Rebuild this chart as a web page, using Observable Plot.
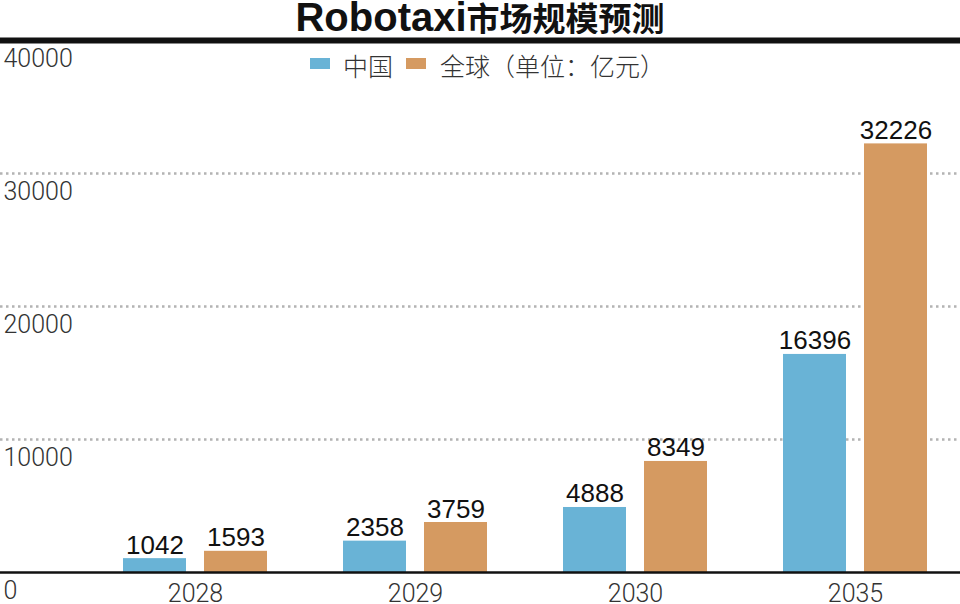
<!DOCTYPE html>
<html>
<head>
<meta charset="utf-8">
<script src="https://cdn.jsdelivr.net/npm/d3@7"></script>
<script src="https://cdn.jsdelivr.net/npm/@observablehq/plot@0.6"></script>
<style>
  html, body { margin: 0; padding: 0; background: #fff; }
  #wrap { position: relative; width: 960px; height: 604px; overflow: hidden; background: #fff; }
  #title { position: absolute; left: 0; top: 0; width: 960px; height: 34px; text-align: center; line-height: 34px; white-space: nowrap; color: #111; font-family: "Liberation Sans", Arial, sans-serif; font-size: 34px; }
  #title .lat { font-family: "Liberation Sans", Arial, sans-serif; font-weight: 700; font-size: 40px; line-height: 34px; }
  #title .cjk { font-family: "Noto Sans CJK SC", sans-serif; font-weight: 700; font-size: 33px; line-height: 34px; }
  #chart { position: absolute; left: 0; top: 34px; }
  .leg { position: absolute; top: 50px; font-family: "Noto Sans CJK SC", sans-serif; font-weight: 300; font-size: 25px; line-height: 30px; color: #333; white-space: nowrap; }
  .sw { position: absolute; top: 58px; width: 20px; height: 11px; }
</style>
</head>
<body>
<div id="wrap">
  <div id="title"><span class="lat">Robotaxi</span><span class="cjk">市场规模预测</span></div>
  <div id="chart"></div>
</div>
<script>
const years = ["2028", "2029", "2030", "2035"];
const chinaValues = [1042, 2358, 4888, 16396];
const globalValues = [1593, 3759, 8349, 32226];
const yTicks = [0, 10000, 20000, 30000, 40000];
const seriesNames = ["中国", "全球（单位：亿元）"];
const seriesColors = ["#69b3d6", "#d59a61"];

const chinaRows = years.map((y, i) => ({year: y, value: chinaValues[i]}));
const globalRows = years.map((y, i) => ({year: y, value: globalValues[i]}));

const numFont = "'Liberation Sans', Arial, sans-serif";

const chart = Plot.plot({
  width: 960,
  height: 570,
  marginTop: 6,
  marginBottom: 32,
  marginLeft: 0,
  marginRight: 0,
  style: {background: "#fff", fontFamily: numFont, overflow: "visible"},
  x: {type: "band", domain: years, paddingInner: 0.3455, paddingOuter: 0.3545, align: 0.788, axis: null},
  y: {domain: [0, 40000], axis: null},
  marks: [
    Plot.ruleY(yTicks.filter(d => d > 0 && d < 40000), {stroke: "#b3b3b3", strokeWidth: 2.5, strokeDasharray: "2.5,3.5"}),
    Plot.barY(chinaRows, {x: "year", y: "value", fill: seriesColors[0], insetRight: 81}),
    Plot.barY(globalRows, {x: "year", y: "value", fill: seriesColors[1], insetLeft: 81}),
    Plot.ruleY([0], {stroke: "#111", strokeWidth: 2.5}),
    Plot.ruleY([40000], {stroke: "#111", strokeWidth: 6}),
    Plot.text(yTicks, {y: d => d, text: d => String(d), frameAnchor: "left", textAnchor: "start", dx: 3, lineAnchor: "bottom", dy: 26, fontSize: 25, fill: "#333", fontFamily: "Roboto", fontWeight: 300}),
    Plot.text(years, {x: d => d, text: d => d, frameAnchor: "bottom", lineAnchor: "bottom", dy: 29, fontSize: 25, fill: "#333", fontFamily: "Roboto", fontWeight: 300}),
    Plot.text(chinaRows, {x: "year", y: "value", text: d => String(d.value), dx: -40.5, dy: -5, lineAnchor: "bottom", fontSize: 26, fill: "#111"}),
    Plot.text(globalRows, {x: "year", y: "value", text: d => String(d.value), dx: 40.5, dy: -5, lineAnchor: "bottom", fontSize: 26, fill: "#111"})
  ]
});
document.getElementById("chart").appendChild(chart);

// legend
const wrap = document.getElementById("wrap");
const legPos = [{sw: 310, tx: 343}, {sw: 406, tx: 440}];
seriesNames.forEach((name, i) => {
  const sw = document.createElement("div");
  sw.className = "sw";
  sw.style.left = legPos[i].sw + "px";
  sw.style.background = seriesColors[i];
  wrap.appendChild(sw);
  const tx = document.createElement("div");
  tx.className = "leg";
  tx.style.left = legPos[i].tx + "px";
  tx.textContent = name;
  wrap.appendChild(tx);
});
</script>
</body>
</html>
